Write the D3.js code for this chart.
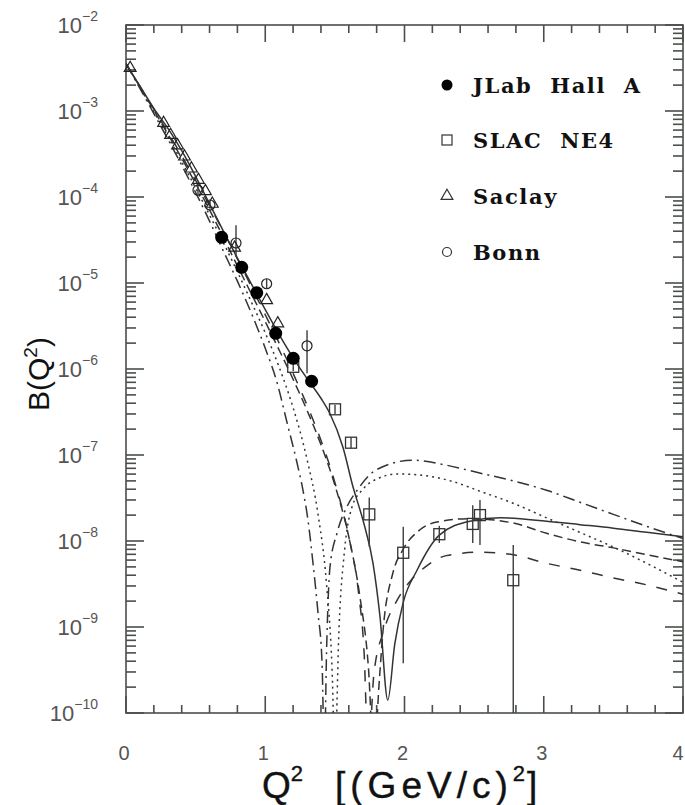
<!DOCTYPE html>
<html>
<head>
<meta charset="utf-8">
<script src="https://cdn.jsdelivr.net/npm/d3@7"></script>
<style>
  body { margin: 0; background: #fff; }
  svg { display: block; }
</style>
</head>
<body>
<svg id="chart" width="685" height="805"></svg>
<script>
// ---- tick labels ----
const xTickLabels = ["0", "1", "2", "3", "4"];
const yTickExponents = [-2, -3, -4, -5, -6, -7, -8, -9, -10];

// ---- measurements: [Q2, B, Blow, Bhigh] ----
const jlabHallA = [
  [0.687, 3.40e-5, 3.15e-5, 3.65e-5],
  [0.831, 1.52e-5, 1.41e-5, 1.63e-5],
  [0.939, 7.7e-6, 7.1e-6, 8.3e-6],
  [1.075, 2.6e-6, 2.4e-6, 2.8e-6],
  [1.201, 1.33e-6, 1.22e-6, 1.44e-6],
  [1.333, 7.2e-7, 6.6e-7, 7.8e-7]
];
const slacNE4 = [
  [1.201, 1.06e-6, 0.95e-6, 1.18e-6],
  [1.501, 3.4e-7, 3.0e-7, 3.85e-7],
  [1.616, 1.39e-7, 1.2e-7, 1.6e-7],
  [1.747, 2.04e-8, 8.6e-9, 3.2e-8],
  [1.991, 7.3e-9, 3.8e-10, 1.46e-8],
  [2.250, 1.2e-8, 9.5e-9, 1.5e-8],
  [2.490, 1.58e-8, 9.5e-9, 2.6e-8],
  [2.542, 2.0e-8, 9.0e-9, 3.0e-8],
  [2.781, 3.5e-9, 1e-11, 9.0e-9]
];
const saclay = [
  [0.03, 3.16e-3], [0.27, 7.24e-4], [0.32, 5.25e-4], [0.37, 3.98e-4],
  [0.42, 2.95e-4], [0.47, 2.14e-4], [0.52, 1.58e-4], [0.57, 1.17e-4],
  [0.62, 8.32e-5], [0.78, 2.57e-5], [1.01, 6.31e-6], [1.09, 3.39e-6]
];
const bonn = [
  [0.517, 1.2e-4, 1.08e-4, 1.32e-4],
  [0.603, 8.07e-5, 7.3e-5, 8.9e-5],
  [0.79, 2.92e-5, 2.0e-5, 4.68e-5],
  [1.01, 9.8e-6, 8.6e-6, 1.12e-5],
  [1.30, 1.86e-6, 8.9e-7, 2.82e-6]
];

// ---- theory curves: [Q2, B] ----
const curveSolid = [
  [0, 3.55e-3], [0.1, 1.95e-3], [0.2, 1.07e-3], [0.3, 6.31e-4], [0.4, 3.47e-4],
  [0.5, 1.74e-4], [0.6, 8.32e-5], [0.7, 3.98e-5], [0.8, 1.95e-5], [0.9, 9.77e-6],
  [1.0, 4.90e-6], [1.1, 2.51e-6], [1.2, 1.35e-6], [1.3, 7.76e-7], [1.4, 4.57e-7],
  [1.465, 3.02e-7], [1.558, 1.23e-7], [1.63, 4.27e-8], [1.702, 1.74e-8],
  [1.774, 5.50e-9], [1.824, 1.32e-9], [1.88, 1.41e-10], [1.93, 6.31e-10],
  [1.99, 1.91e-9], [2.09, 4.57e-9], [2.25, 1.17e-8], [2.47, 1.70e-8],
  [2.69, 1.86e-8], [3.02, 1.70e-8], [3.26, 1.55e-8], [3.5, 1.41e-8],
  [3.74, 1.26e-8], [4.0, 1.12e-8]
];
const curveDashDot = [
  [0, 3.55e-3], [0.2, 9.33e-4], [0.4, 2.34e-4], [0.6, 5.25e-5], [0.7, 2.34e-5],
  [0.8, 1.05e-5], [0.9, 4.47e-6], [1.0, 1.74e-6], [1.08, 7.41e-7], [1.156, 2.40e-7],
  [1.228, 8.13e-8], [1.271, 3.89e-8], [1.307, 1.74e-8], [1.343, 5.50e-9],
  [1.379, 1.45e-9], [1.408, 3.80e-10], [1.425, 3.16e-11], [1.44, 5.01e-10],
  [1.465, 5.01e-9], [1.515, 1.23e-8], [1.587, 2.51e-8], [1.66, 3.89e-8],
  [1.8, 6.76e-8], [2.06, 8.71e-8], [2.305, 7.59e-8], [2.54, 6.17e-8],
  [2.78, 5.01e-8], [3.02, 3.89e-8], [3.26, 2.82e-8], [3.5, 2.04e-8],
  [3.74, 1.48e-8], [4.0, 1.07e-8]
];
const curveDotted = [
  [0, 3.55e-3], [0.2, 9.77e-4], [0.4, 2.57e-4], [0.6, 6.17e-5], [0.8, 1.35e-5],
  [0.9, 6.03e-6], [1.0, 2.63e-6], [1.1, 1.05e-6], [1.2, 3.55e-7], [1.3, 8.91e-8],
  [1.38, 2.00e-8], [1.44, 3.16e-9], [1.48, 3.16e-10], [1.5, 3.16e-11],
  [1.53, 1.0e-9], [1.57, 7.94e-9], [1.62, 2.40e-8], [1.7, 3.98e-8],
  [1.8, 5.25e-8], [1.95, 6.03e-8], [2.15, 5.75e-8], [2.35, 4.90e-8],
  [2.54, 3.80e-8], [2.78, 2.75e-8], [3.02, 1.86e-8], [3.26, 1.26e-8],
  [3.5, 8.51e-9], [3.74, 5.50e-9], [4.0, 3.31e-9]
];
const curveDashed = [
  [0, 3.55e-3], [0.2, 1.02e-3], [0.4, 2.82e-4], [0.6, 7.08e-5], [0.8, 1.58e-5],
  [1.0, 3.55e-6], [1.1, 1.66e-6], [1.2, 7.59e-7], [1.3, 3.31e-7], [1.4, 1.32e-7],
  [1.5, 4.47e-8], [1.6, 1.12e-8], [1.68, 2.24e-9], [1.74, 3.55e-10],
  [1.78, 3.16e-11], [1.82, 2.51e-10], [1.846, 9.12e-10], [1.917, 4.27e-9],
  [1.989, 7.94e-9], [2.111, 1.35e-8], [2.233, 1.66e-8], [2.47, 1.82e-8],
  [2.78, 1.62e-8], [3.02, 1.23e-8], [3.26, 9.77e-9], [3.5, 8.32e-9],
  [3.74, 6.92e-9], [4.0, 5.75e-9]
];
const curveLongDash = [
  [0, 3.55e-3], [0.2, 1.05e-3], [0.4, 3.02e-4], [0.6, 7.94e-5], [0.8, 1.91e-5],
  [1.0, 4.27e-6], [1.1, 2.00e-6], [1.2, 8.91e-7], [1.3, 3.80e-7], [1.4, 1.48e-7],
  [1.5, 4.79e-8], [1.6, 1.12e-8], [1.67, 2.51e-9], [1.71, 5.01e-10],
  [1.74, 3.16e-11], [1.78, 2.82e-10], [1.85, 8.91e-10], [1.95, 2.09e-9],
  [2.05, 3.55e-9], [2.15, 5.01e-9], [2.3, 6.76e-9], [2.54, 7.41e-9],
  [2.78, 6.92e-9], [3.02, 5.50e-9], [3.26, 4.57e-9], [3.5, 3.72e-9],
  [3.74, 3.09e-9], [4.0, 2.40e-9]
];

const legendNames = ["JLab  Hall  A", "SLAC  NE4", "Saclay", "Bonn"];

// ---- layout ----
const svg = d3.select("#chart");
const plotL = 126, plotR = 683, plotT = 25, plotB = 713;
const x = d3.scaleLinear().domain([0, 4]).range([plotL, plotR]);
const y = d3.scaleLog().domain([1e-10, 1e-2]).range([plotB, plotT]);

const ink = "#333";
const axisInk = "#4a4f4a";

svg.append("defs").append("clipPath").attr("id", "plotClip")
  .append("rect").attr("x", plotL).attr("y", plotT)
  .attr("width", plotR - plotL).attr("height", plotB - plotT);

// ---- frame and ticks ----
const frame = svg.append("g").attr("stroke", axisInk).attr("stroke-width", 1.6);
frame.append("rect").attr("x", plotL).attr("y", plotT)
  .attr("width", plotR - plotL).attr("height", plotB - plotT).attr("fill", "none");

x.ticks(20).forEach(d => {
  const major = Math.abs(d - Math.round(d)) < 1e-9;
  const len = major ? 17 : 8;
  frame.append("line").attr("x1", x(d)).attr("x2", x(d))
    .attr("y1", plotB).attr("y2", plotB - len);
  frame.append("line").attr("x1", x(d)).attr("x2", x(d))
    .attr("y1", plotT).attr("y2", plotT + len);
});

y.ticks().forEach(d => {
  const m = d / Math.pow(10, Math.floor(Math.log10(d) + 1e-9));
  const major = Math.abs(m - 1) < 1e-6;
  const len = major ? 18 : 10;
  frame.append("line").attr("x1", plotL).attr("x2", plotL + len)
    .attr("y1", y(d)).attr("y2", y(d));
  frame.append("line").attr("x1", plotR).attr("x2", plotR - len)
    .attr("y1", y(d)).attr("y2", y(d));
});

// ---- tick labels ----
const labelFont = "'Liberation Sans', Arial, sans-serif";
svg.append("g").selectAll("text").data(xTickLabels).join("text")
  .attr("x", d => Math.min(x(+d) - 2, 678)).attr("y", 760)
  .attr("text-anchor", "middle")
  .attr("font-family", labelFont).attr("font-size", 20).attr("fill", "#555")
  .text(d => d);

const ylab = svg.append("g").selectAll("text").data(yTickExponents).join("text")
  .attr("x", 98).attr("y", d => y(Math.pow(10, d)) + 8)
  .attr("text-anchor", "end")
  .attr("font-family", labelFont).attr("fill", "#555");
ylab.append("tspan").attr("font-size", 22).text("10");
ylab.append("tspan").attr("font-size", 14).attr("dy", -12)
  .text(d => "\u2212" + Math.abs(d));

// ---- axis titles ----
const xTitle = svg.append("text").attr("y", 798)
  .attr("font-family", labelFont).attr("font-size", 37).attr("fill", "#111")
  .attr("stroke", "#111").attr("stroke-width", 0.4)
  .style("white-space", "pre");
xTitle.append("tspan").attr("x", 262).text("Q");
xTitle.append("tspan").attr("font-size", 22).attr("dy", -17).text("2");
xTitle.append("tspan").attr("x", 335).attr("dy", 17).attr("letter-spacing", 5).text("[(GeV/c)");
xTitle.append("tspan").attr("font-size", 22).attr("dy", -17).text("2");
xTitle.append("tspan").attr("font-size", 37).attr("dy", 17).attr("dx", 2).text("]");

const yTitle = svg.append("text")
  .attr("transform", "translate(49,374) rotate(-90)")
  .attr("text-anchor", "middle")
  .attr("font-family", labelFont).attr("font-size", 30).attr("fill", "#111");
yTitle.append("tspan").text("B(Q");
yTitle.append("tspan").attr("font-size", 19).attr("dy", -12).text("2");
yTitle.append("tspan").attr("dy", 12).text(")");

// ---- theory curves ----
const plot = svg.append("g").attr("clip-path", "url(#plotClip)");
const line = d3.line()
  .x(d => x(d[0]))
  .y(d => y(d[1]))
  .curve(d3.curveMonotoneX);

const curves = [
  { data: curveSolid, dash: null },
  { data: curveDashDot, dash: "12,5,2,5" },
  { data: curveDotted, dash: "2,4" },
  { data: curveDashed, dash: "9,5" },
  { data: curveLongDash, dash: "11,11" }
];
curves.forEach(c => {
  plot.append("path").datum(c.data)
    .attr("d", line)
    .attr("fill", "none")
    .attr("stroke", ink)
    .attr("stroke-width", 1.5)
    .attr("stroke-dasharray", c.dash);
});

// ---- error bars ----
const errs = plot.append("g").attr("stroke", "#3a3f3a").attr("stroke-width", 1.4);
[jlabHallA, slacNE4, bonn].forEach(set => {
  set.forEach(d => {
    errs.append("line")
      .attr("x1", x(d[0])).attr("x2", x(d[0]))
      .attr("y1", y(d[2])).attr("y2", y(d[3]));
  });
});

// ---- markers ----
const marks = svg.append("g");
const tri = d3.symbol().type(d3.symbolTriangle).size(60);

marks.selectAll(".saclay").data(saclay).join("path")
  .attr("d", tri)
  .attr("transform", d => `translate(${x(d[0])},${y(d[1])})`)
  .attr("fill", "none").attr("stroke", "#222").attr("stroke-width", 1.2);

marks.selectAll(".bonn").data(bonn).join("circle")
  .attr("cx", d => x(d[0])).attr("cy", d => y(d[1])).attr("r", 5)
  .attr("fill", "none").attr("stroke", "#222").attr("stroke-width", 1.2);

marks.selectAll(".slac").data(slacNE4).join("rect")
  .attr("x", d => x(d[0]) - 5.5).attr("y", d => y(d[1]) - 5.5)
  .attr("width", 11).attr("height", 11)
  .attr("fill", "none").attr("stroke", "#333").attr("stroke-width", 1.3);

marks.selectAll(".jlab").data(jlabHallA).join("circle")
  .attr("cx", d => x(d[0])).attr("cy", d => y(d[1])).attr("r", 6.5)
  .attr("fill", "#000");

// ---- legend ----
const legendY = [85, 140, 196, 252];
const lg = svg.append("g");
lg.append("circle").attr("cx", 447).attr("cy", legendY[0]).attr("r", 5.5).attr("fill", "#000");
lg.append("rect").attr("x", 442).attr("y", legendY[1] - 5).attr("width", 10).attr("height", 10)
  .attr("fill", "none").attr("stroke", "#333").attr("stroke-width", 1.2);
lg.append("path").attr("d", tri).attr("transform", `translate(447,${legendY[2]})`)
  .attr("fill", "none").attr("stroke", "#333").attr("stroke-width", 1.2);
lg.append("circle").attr("cx", 447).attr("cy", legendY[3]).attr("r", 4.5)
  .attr("fill", "none").attr("stroke", "#333").attr("stroke-width", 1.2);

lg.selectAll("text").data(legendNames).join("text")
  .attr("x", 473).attr("y", (d, i) => legendY[i] + 8)
  .attr("font-family", "'DejaVu Serif', serif").attr("font-weight", "bold")
  .attr("font-size", 21).attr("letter-spacing", 1.6).attr("fill", "#111")
  .style("white-space", "pre")
  .text(d => d);
</script>
</body>
</html>
